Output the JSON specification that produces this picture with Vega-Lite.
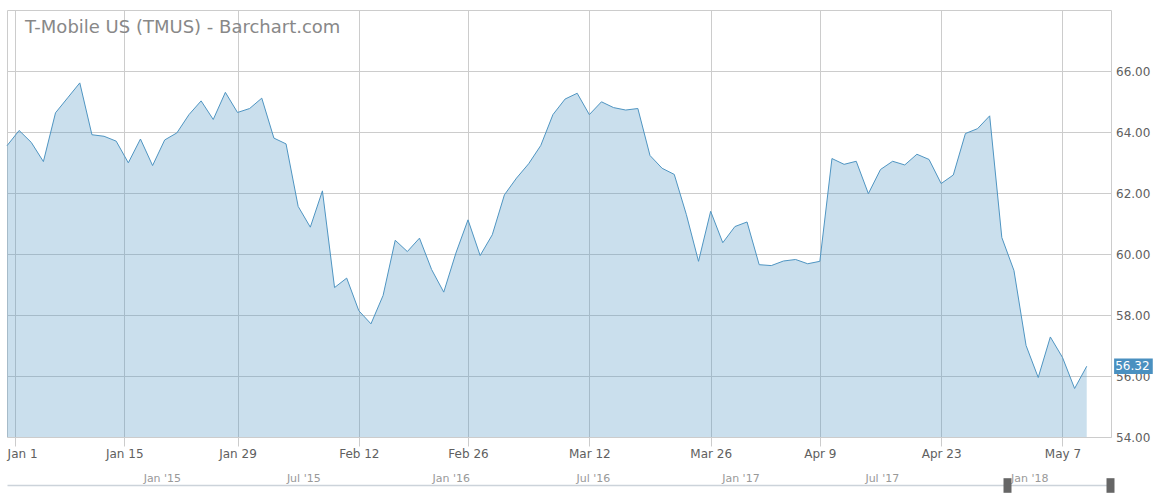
{
  "$schema": "https://vega.github.io/schema/vega-lite/v6.json",
  "width": 1104,
  "height": 427,
  "autosize": {"type": "none"},
  "padding": {"left": 7, "top": 10, "right": 45, "bottom": 63},
  "background": "white",
  "config": {
    "view": {"stroke": "#cccccc", "strokeWidth": 1},
    "font": "DejaVu Sans"
  },
  "title": {
    "text": "T-Mobile US (TMUS) - Barchart.com",
    "anchor": "start",
    "frame": "group",
    "orient": "top",
    "offset": -41,
    "baseline": "alphabetic",
    "dx": 18,
    "font": "DejaVu Sans",
    "fontSize": 18,
    "fontWeight": "normal",
    "color": "#888888"
  },
  "data": {
    "values": [
      {"date": "2017-12-29", "close": 63.55},
      {"date": "2018-01-02", "close": 64.05},
      {"date": "2018-01-03", "close": 63.66},
      {"date": "2018-01-04", "close": 63.03},
      {"date": "2018-01-05", "close": 64.63},
      {"date": "2018-01-08", "close": 65.12},
      {"date": "2018-01-09", "close": 65.61},
      {"date": "2018-01-10", "close": 63.91},
      {"date": "2018-01-11", "close": 63.86},
      {"date": "2018-01-12", "close": 63.70},
      {"date": "2018-01-16", "close": 62.99},
      {"date": "2018-01-17", "close": 63.77},
      {"date": "2018-01-18", "close": 62.90},
      {"date": "2018-01-19", "close": 63.74},
      {"date": "2018-01-22", "close": 63.97},
      {"date": "2018-01-23", "close": 64.57},
      {"date": "2018-01-24", "close": 65.02},
      {"date": "2018-01-25", "close": 64.41},
      {"date": "2018-01-26", "close": 65.30},
      {"date": "2018-01-29", "close": 64.64},
      {"date": "2018-01-30", "close": 64.77},
      {"date": "2018-01-31", "close": 65.11},
      {"date": "2018-02-01", "close": 63.80},
      {"date": "2018-02-02", "close": 63.61},
      {"date": "2018-02-05", "close": 61.56},
      {"date": "2018-02-06", "close": 60.88},
      {"date": "2018-02-07", "close": 62.07},
      {"date": "2018-02-08", "close": 58.90},
      {"date": "2018-02-09", "close": 59.21},
      {"date": "2018-02-12", "close": 58.14},
      {"date": "2018-02-13", "close": 57.71},
      {"date": "2018-02-14", "close": 58.64},
      {"date": "2018-02-15", "close": 60.45},
      {"date": "2018-02-16", "close": 60.08},
      {"date": "2018-02-20", "close": 60.52},
      {"date": "2018-02-21", "close": 59.49},
      {"date": "2018-02-22", "close": 58.75},
      {"date": "2018-02-23", "close": 60.03},
      {"date": "2018-02-26", "close": 61.12},
      {"date": "2018-02-27", "close": 59.95},
      {"date": "2018-02-28", "close": 60.63},
      {"date": "2018-03-01", "close": 61.94},
      {"date": "2018-03-02", "close": 62.49},
      {"date": "2018-03-05", "close": 62.96},
      {"date": "2018-03-06", "close": 63.56},
      {"date": "2018-03-07", "close": 64.57},
      {"date": "2018-03-08", "close": 65.08},
      {"date": "2018-03-09", "close": 65.27},
      {"date": "2018-03-12", "close": 64.57},
      {"date": "2018-03-13", "close": 64.99},
      {"date": "2018-03-14", "close": 64.80},
      {"date": "2018-03-15", "close": 64.72},
      {"date": "2018-03-16", "close": 64.77},
      {"date": "2018-03-19", "close": 63.23},
      {"date": "2018-03-20", "close": 62.81},
      {"date": "2018-03-21", "close": 62.61},
      {"date": "2018-03-22", "close": 61.29},
      {"date": "2018-03-23", "close": 59.76},
      {"date": "2018-03-26", "close": 61.40},
      {"date": "2018-03-27", "close": 60.37},
      {"date": "2018-03-28", "close": 60.90},
      {"date": "2018-03-29", "close": 61.05},
      {"date": "2018-04-02", "close": 59.65},
      {"date": "2018-04-03", "close": 59.62},
      {"date": "2018-04-04", "close": 59.77},
      {"date": "2018-04-05", "close": 59.82},
      {"date": "2018-04-06", "close": 59.68},
      {"date": "2018-04-09", "close": 59.76},
      {"date": "2018-04-10", "close": 63.13},
      {"date": "2018-04-11", "close": 62.94},
      {"date": "2018-04-12", "close": 63.04},
      {"date": "2018-04-13", "close": 61.98},
      {"date": "2018-04-16", "close": 62.77},
      {"date": "2018-04-17", "close": 63.04},
      {"date": "2018-04-18", "close": 62.92},
      {"date": "2018-04-19", "close": 63.27},
      {"date": "2018-04-20", "close": 63.10},
      {"date": "2018-04-23", "close": 62.31},
      {"date": "2018-04-24", "close": 62.59},
      {"date": "2018-04-25", "close": 63.95},
      {"date": "2018-04-26", "close": 64.11},
      {"date": "2018-04-27", "close": 64.53},
      {"date": "2018-04-30", "close": 60.54},
      {"date": "2018-05-01", "close": 59.46},
      {"date": "2018-05-02", "close": 57.00},
      {"date": "2018-05-03", "close": 55.95},
      {"date": "2018-05-04", "close": 57.28},
      {"date": "2018-05-07", "close": 56.61},
      {"date": "2018-05-08", "close": 55.59},
      {"date": "2018-05-09", "close": 56.32}
    ]
  },
  "resolve": {"scale": {"x": "independent"}, "axis": {"x": "independent"}},
  "layer": [
    {
      "transform": [{"window": [{"op": "row_number", "as": "i"}]}],
      "encoding": {
        "x": {
          "field": "i",
          "type": "quantitative",
          "scale": {"domain": [1, 92], "nice": false, "zero": false},
          "axis": {
            "orient": "bottom",
            "title": null,
            "values": [1.667, 10.667, 20, 30, 39, 49, 59, 68, 78, 88],
            "labelExpr": "datum.value < 2 ? 'Jan 1' : datum.value < 11 ? 'Jan 15' : datum.value < 21 ? 'Jan 29' : datum.value < 31 ? 'Feb 12' : datum.value < 40 ? 'Feb 26' : datum.value < 50 ? 'Mar 12' : datum.value < 60 ? 'Mar 26' : datum.value < 70 ? 'Apr 9' : datum.value < 80 ? 'Apr 23' : 'May 7'",
            "grid": true,
            "gridColor": "#cccccc",
            "gridWidth": 1,
            "domain": false,
            "ticks": true,
            "tickColor": "#cccccc",
            "tickSize": 9,
            "labelFont": "DejaVu Sans",
            "labelFontSize": 12,
            "labelColor": "#606060",
            "labelPadding": 2,
            "labelFlush": 10,
            "labelFlushOffset": 8,
            "labelOverlap": false
          }
        },
        "y": {
          "field": "close",
          "type": "quantitative",
          "scale": {"domain": [54, 68], "nice": false, "zero": false},
          "axis": {
            "orient": "right",
            "title": null,
            "values": [54, 56, 58, 60, 62, 64, 66],
            "format": ".2f",
            "grid": true,
            "gridColor": "#cccccc",
            "gridWidth": 1,
            "domain": false,
            "ticks": false,
            "labelPadding": 4.5,
            "labelFont": "DejaVu Sans",
            "labelFontSize": 12,
            "labelColor": "#606060"
          }
        }
      },
      "layer": [
        {
          "mark": {
            "type": "area",
            "color": "#4f95c2",
            "fillOpacity": 0.3,
            "line": {"stroke": "#4f95c2", "strokeWidth": 1}
          },
          "encoding": {"y2": {"datum": 54}}
        },
        {
          "transform": [{"filter": "datum.i == 90"}],
          "mark": {
            "type": "point",
            "shape": "M-1.24,-0.5L1.24,-0.5L1.24,0.5L-1.24,0.5Z",
            "size": 973,
            "filled": true,
            "fill": "#4a90c0",
            "opacity": 1,
            "strokeWidth": 0,
            "xOffset": 46.7
          }
        },
        {
          "transform": [{"filter": "datum.i == 90"}],
          "mark": {
            "type": "text",
            "align": "left",
            "baseline": "middle",
            "dx": 28.5,
            "font": "DejaVu Sans",
            "fontSize": 12,
            "color": "white"
          },
          "encoding": {
            "text": {"field": "close", "type": "quantitative", "format": ".2f"}
          }
        }
      ]
    },
    {
      "mark": {"type": "rule", "strokeOpacity": 0},
      "encoding": {
        "x": {
          "field": "date",
          "type": "temporal",
          "scale": {
            "type": "utc",
            "domain": [
              {"year": 2014, "month": 7, "date": 15, "utc": true},
              {"year": 2018, "month": 5, "date": 10, "utc": true}
            ],
            "nice": false
          },
          "axis": {
            "orient": "top",
            "offset": -475,
            "title": null,
            "grid": false,
            "ticks": false,
            "domain": true,
            "domainColor": "#ccd3da",
            "domainWidth": 1.5,
            "values": [
              {"year": 2015, "month": 1, "date": 1, "utc": true},
              {"year": 2015, "month": 7, "date": 1, "utc": true},
              {"year": 2016, "month": 1, "date": 1, "utc": true},
              {"year": 2016, "month": 7, "date": 1, "utc": true},
              {"year": 2017, "month": 1, "date": 1, "utc": true},
              {"year": 2017, "month": 7, "date": 1, "utc": true},
              {"year": 2018, "month": 1, "date": 1, "utc": true}
            ],
            "format": "%b '%y",
            "labelAlign": "left",
            "labelBaseline": "alphabetic",
            "labelPadding": 4,
            "labelOffset": 1.6,
            "labelFont": "DejaVu Sans",
            "labelFontSize": 11,
            "labelColor": "#999999",
            "labelFlush": false,
            "labelOverlap": false
          }
        }
      }
    },
    {
      "mark": {"type": "rule", "strokeOpacity": 0},
      "encoding": {
        "x": {
          "field": "date",
          "type": "temporal",
          "scale": {
            "type": "utc",
            "domain": [
              {"year": 2014, "month": 7, "date": 15, "utc": true},
              {"year": 2018, "month": 5, "date": 10, "utc": true}
            ],
            "nice": false
          },
          "axis": {
            "orient": "top",
            "offset": -482.3,
            "title": null,
            "grid": false,
            "domain": false,
            "labels": false,
            "ticks": true,
            "tickSize": 14.6,
            "tickWidth": 8,
            "tickColor": "#666666",
            "values": [
              {"year": 2017, "month": 12, "date": 29, "utc": true},
              {"year": 2018, "month": 5, "date": 9, "utc": true}
            ]
          }
        }
      }
    }
  ]
}
